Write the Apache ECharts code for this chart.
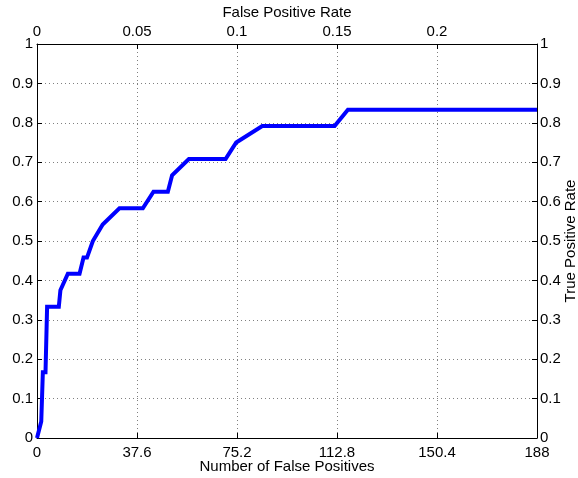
<!DOCTYPE html>
<html>
<head>
<meta charset="utf-8">
<script src="https://cdn.jsdelivr.net/npm/echarts@6/dist/echarts.min.js"></script>
<style>html,body{margin:0;padding:0;background:#fff}#c{width:578px;height:478px}</style>
</head>
<body>
<div id="c"></div>
<script>
var falsePositives = [0, 1.6, 2.2, 3.2, 3.8, 8.2, 8.8, 11.6, 16.0, 17.5, 18.8, 21.0, 24.7, 31.0, 39.8, 43.8, 49.2, 50.8, 57.1, 70.9, 74.9, 84.7, 111.9, 116.9, 188];
var truePositiveRate = [0, 0.042, 0.167, 0.167, 0.333, 0.333, 0.375, 0.417, 0.417, 0.458, 0.458, 0.5, 0.542, 0.583, 0.583, 0.625, 0.625, 0.667, 0.708, 0.708, 0.75, 0.792, 0.792, 0.833, 0.833];
var bottomTicks = [0, 37.6, 75.2, 112.8, 150.4, 188];
var topTicks = [0, 0.05, 0.1, 0.15, 0.2];
var yTicks = [0, 0.1, 0.2, 0.3, 0.4, 0.5, 0.6, 0.7, 0.8, 0.9, 1];

var font = 'Liberation Sans, Arial, sans-serif';
var fs = 15;
var gridLine = {show: true, lineStyle: {color: '#808080', type: [1, 3], width: 1}};
var axisLine = {show: true, onZero: false, lineStyle: {color: '#000', width: 1}};
var tick = {show: true, inside: true, length: 5, lineStyle: {color: '#000'}};
function pick(list, eps) {
  return function (v) { var m = list.find(function(t){return Math.abs(t - v) < eps;}); return m === undefined ? '' : String(m); };
}

var chart = echarts.init(document.getElementById('c'), null, {renderer: 'canvas'});
chart.setOption({
  animation: false,
  backgroundColor: '#fff',
  grid: {left: 37, right: 41, top: 44, bottom: 40, containLabel: false, outerBoundsMode: 'none'},
  xAxis: [
    {
      type: 'value', position: 'bottom', min: 0, max: 188, interval: 37.6,
      name: 'Number of False Positives', nameLocation: 'middle', nameGap: 21, nameMoveOverlap: false,
      nameTextStyle: {fontFamily: font, fontSize: fs, color: '#000'},
      axisLine: axisLine, axisTick: tick, splitLine: gridLine,
      axisLabel: {fontFamily: font, fontSize: fs, color: '#000', margin: 7, formatter: pick(bottomTicks, 1e-6)}
    },
    {
      type: 'value', position: 'top', min: 0, max: 0.25, interval: 0.05,
      name: 'False Positive Rate', nameLocation: 'middle', nameGap: 24, nameMoveOverlap: false,
      nameTextStyle: {fontFamily: font, fontSize: fs, color: '#000'},
      axisLine: axisLine, axisTick: tick, splitLine: {show: false},
      axisLabel: {fontFamily: font, fontSize: fs, color: '#000', margin: 5, formatter: pick(topTicks, 1e-9)}
    }
  ],
  yAxis: [
    {
      type: 'value', position: 'left', min: 0, max: 1, interval: 0.1,
      axisLine: axisLine, axisTick: tick, splitLine: gridLine,
      axisLabel: {fontFamily: font, fontSize: fs, color: '#000', margin: 4, formatter: pick(yTicks, 1e-9)}
    },
    {
      type: 'value', position: 'right', min: 0, max: 1, interval: 0.1,
      name: 'True Positive Rate', nameLocation: 'middle', nameGap: 26, nameRotate: 90, nameMoveOverlap: false,
      nameTextStyle: {fontFamily: font, fontSize: fs, color: '#000'},
      axisLine: axisLine, axisTick: tick, splitLine: {show: false},
      axisLabel: {fontFamily: font, fontSize: fs, color: '#000', margin: 3, formatter: pick(yTicks, 1e-9)}
    }
  ],
  series: [{
    type: 'line', xAxisIndex: 0, yAxisIndex: 0,
    data: falsePositives.map(function (x, i) { return [x, truePositiveRate[i]]; }),
    showSymbol: false, symbol: 'none',
    lineStyle: {color: '#0000ff', width: 4, join: 'miter'},
    clip: true
  }]
});
</script>
</body>
</html>
